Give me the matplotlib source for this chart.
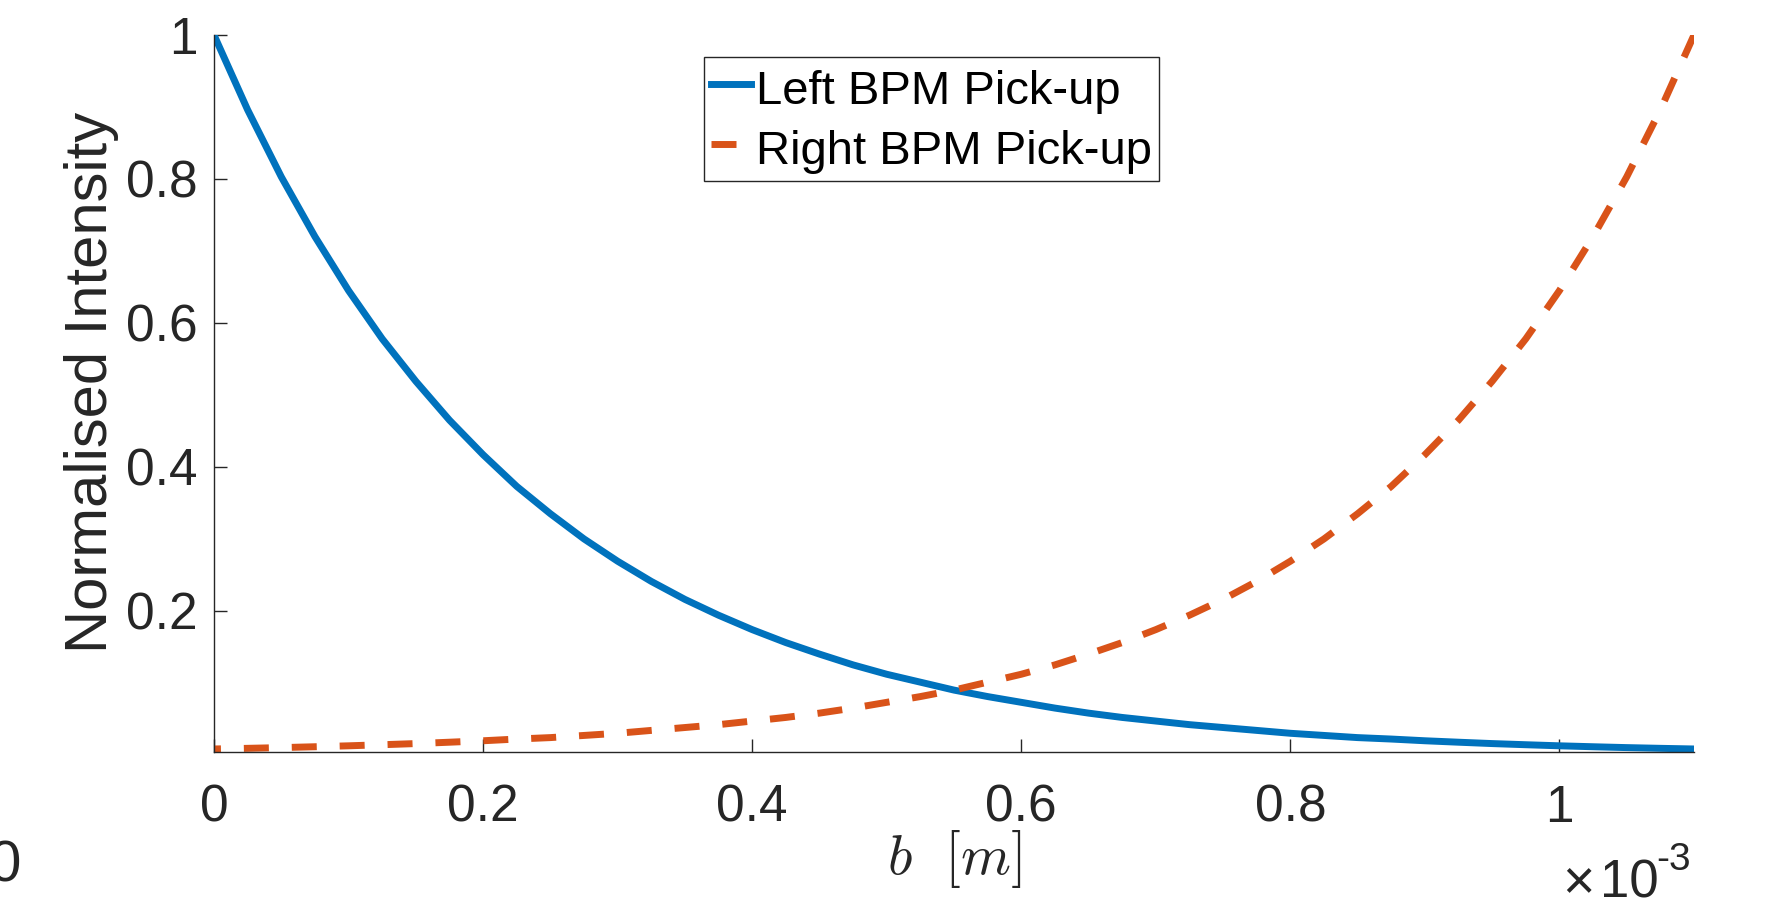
import matplotlib
matplotlib.use('Agg')
import matplotlib.pyplot as plt

plt.rcParams['font.family'] = ['Liberation Sans', 'DejaVu Sans']

# b position in units of 1e-3 m
b = [0.000, 0.025, 0.050, 0.075, 0.100, 0.125, 0.150, 0.175, 0.200, 0.225,
     0.250, 0.275, 0.300, 0.325, 0.350, 0.375, 0.400, 0.425, 0.450, 0.475,
     0.500, 0.525, 0.550, 0.575, 0.600, 0.625, 0.650, 0.675, 0.700, 0.725,
     0.750, 0.775, 0.800, 0.825, 0.850, 0.875, 0.900, 0.925, 0.950, 0.975,
     1.000, 1.025, 1.050, 1.075, 1.100]

left_pickup = [1.000, 0.896, 0.803, 0.720, 0.645, 0.578, 0.519, 0.465, 0.417,
               0.373, 0.335, 0.300, 0.269, 0.241, 0.216, 0.194, 0.174, 0.156,
               0.140, 0.125, 0.112, 0.101, 0.090, 0.081, 0.073, 0.065, 0.058,
               0.052, 0.047, 0.042, 0.038, 0.034, 0.030, 0.027, 0.024, 0.022,
               0.0196, 0.0176, 0.0157, 0.0141, 0.0126, 0.0113, 0.0101, 0.0091,
               0.0082]

right_pickup = [0.0082, 0.0091, 0.0101, 0.0113, 0.0126, 0.0141, 0.0157, 0.0176,
                0.0196, 0.022, 0.024, 0.027, 0.030, 0.034, 0.038, 0.042, 0.047,
                0.052, 0.058, 0.065, 0.073, 0.081, 0.090, 0.101, 0.112, 0.125,
                0.140, 0.156, 0.174, 0.194, 0.216, 0.241, 0.269, 0.300, 0.335,
                0.373, 0.417, 0.465, 0.519, 0.578, 0.645, 0.720, 0.803, 0.896,
                1.000]

xticks = [0, 0.2, 0.4, 0.6, 0.8, 1.0]
xticklabels = ['0', '0.2', '0.4', '0.6', '0.8', '1']
yticks = [0.2, 0.4, 0.6, 0.8, 1.0]
yticklabels = ['0.2', '0.4', '0.6', '0.8', '1']

W, H = 1769, 909
fig = plt.figure(figsize=(W / 100, H / 100), dpi=100)
ax = fig.add_axes([214 / W, 1 - 752 / H, (1694 - 214) / W, (752 - 35) / H])

blue = '#0072BD'
orange = '#D95319'
ax.plot(b, left_pickup, color=blue, lw=5, label='Left BPM Pick-up')
ax.plot(b, right_pickup, color=orange, lw=5, linestyle=(2.6, (3.6, 3.3)),
        dash_capstyle='butt', label='Right BPM Pick-up')

ax.set_xlim(0, 1.1)
ax.set_ylim(0.004, 1)
ax.set_xticks(xticks)
ax.set_xticklabels(xticklabels)
ax.set_yticks(yticks)
ax.set_yticklabels(yticklabels)

axcol = '#262626'
for s in ['top', 'right']:
    ax.spines[s].set_visible(False)
for s in ['left', 'bottom']:
    ax.spines[s].set_color(axcol)
    ax.spines[s].set_linewidth(1)
ax.tick_params(direction='in', length=9.5, width=1, color=axcol,
               labelcolor=axcol, labelsize=37)
ax.tick_params(axis='x', pad=23)
ax.tick_params(axis='y', pad=12)

ax.set_ylabel('Normalised Intensity', fontsize=43, color=axcol)
ax.yaxis.set_label_coords(-0.064, 0.515)

ax.set_xlabel(r'$b\ \ [m]$', fontsize=41, color=axcol, math_fontfamily='cm',
              va='center')
ax.xaxis.set_label_coords(0.5, -0.149)

# x-axis exponent, MATLAB style
fig.text(1562 / W, 1 - 898 / H, '\u00d7', fontsize=40, color=axcol,
         ha='left', va='baseline')
fig.text(1600 / W, 1 - 898 / H, '10', fontsize=38, color=axcol,
         ha='left', va='baseline')
fig.text(1656 / W, 1 - 870 / H, '-3', fontsize=28, color=axcol,
         ha='left', va='baseline')
fig.text(21 / W, 1 - 882 / H, '0', fontsize=42, color=axcol,
         ha='right', va='baseline')

leg = ax.legend(loc='upper left', bbox_to_anchor=(704 / W, 1 - 57 / H),
                bbox_transform=fig.transFigure, borderaxespad=0,
                fontsize=34, fancybox=False, framealpha=1, borderpad=0.15,
                labelspacing=0.2, handleheight=1.2, handlelength=0.85,
                handletextpad=0.1)
leg.get_frame().set_edgecolor(axcol)
leg.get_frame().set_linewidth(1)
leg.get_lines()[1].set_linestyle((0, (3.6, 3.3)))

fig.savefig('out.png', dpi=100)
